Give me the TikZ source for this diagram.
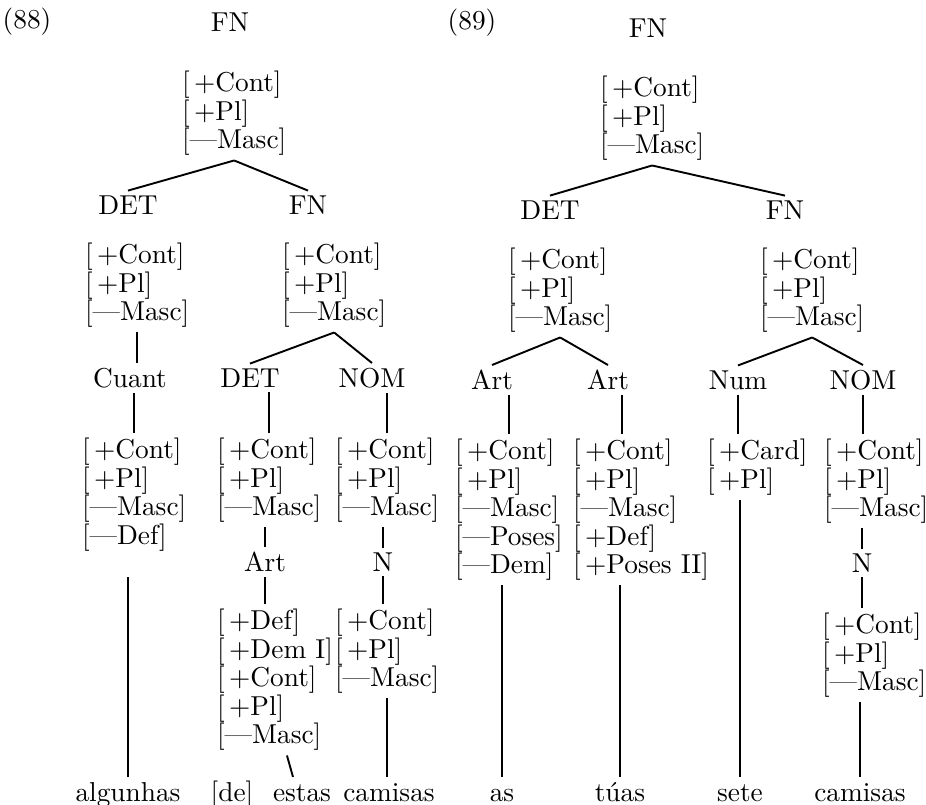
\documentclass[tikz,border=0pt]{standalone}
\usepackage{tikz}
\usetikzlibrary{calc}
\newcommand{\plusf}[1]{[\,+#1]}
\newcommand{\minusf}[1]{[---#1]}
\tikzset{
  branch/.style={-, line width=0.75pt},
  feat/.style={align=left, anchor=north west},
  word/.style={anchor=base, text height=7.5pt},
  every node/.style={inner sep=0, outer sep=2pt, font=\fontsize{10.8}{11.26}\selectfont}
}

\begin{document}
\begin{tikzpicture}[x=0.395pt, y=-0.395pt]
    \useasboundingbox[fill=white] (0,0) rectangle (926,805);
    % (88)
    \node (ex88) at (27,22) {(88)};
    \node (fnA) at (230,22) {FN};
    \node[feat] (mA) at (177,66) {\plusf{Cont}\\\plusf{Pl}\\\minusf{Masc}};
    \node (detA) at (128,205) {DET};
    \node (fnB) at (308,205) {FN};
    \draw[branch] (mA.south) -- (detA.north);
    \draw[branch] (mA.south) -- (fnB.north);
    \node[feat] (mB) at (80,238) {\plusf{Cont}\\\plusf{Pl}\\\minusf{Masc}};
    \node[feat] (mC) at (277,238) {\plusf{Cont}\\\plusf{Pl}\\\minusf{Masc}};
    \node (cuant) at (130,378) {Cuant};
    \node (detB) at (250,378) {DET};
    \node (nomA) at (372,378) {NOM};
    \draw[branch] (mB.south) -- (mB.south |- cuant.north);
    \draw[branch] (mC.south) -- (detB.north);
    \draw[branch] (mC.south) -- (nomA.north);
    \node[feat] (mD) at (77,433) {\plusf{Cont}\\\plusf{Pl}\\\minusf{Masc}\\\minusf{Def}};
    \node[feat] (mE) at (212,433) {\plusf{Cont}\\\plusf{Pl}\\\minusf{Masc}};
    \node[feat] (mF) at (330,433) {\plusf{Cont}\\\plusf{Pl}\\\minusf{Masc}};
    \draw[branch] (mD.north) -- (mD.north |- cuant.south);
    \draw[branch] (mE.north) -- (mE.north |- detB.south);
    \draw[branch] (mF.north) -- (mF.north |- nomA.south);
    \node (artA) at (265,562) {Art};
    \node (nA) at (383,562) {N};
    \draw[branch] (artA.north) -- (artA.north |- mE.south);
    \draw[branch] (nA.north) -- (nA.north |- mF.south);
    \node[feat] (mG) at (212,604) {\plusf{Def}\\\plusf{Dem I}\\\plusf{Cont}\\\plusf{Pl}\\\minusf{Masc}};
    \node[feat] (mH) at (330,604) {\plusf{Cont}\\\plusf{Pl}\\\minusf{Masc}};
    \draw[branch] (artA.south) -- (artA.south |- mG.north);
    \draw[branch] (nA.south) -- (nA.south |- mH.north);
    \node[word] (w1) at (128,801) {algunhas};
    \node[word] (w2) at (232,801) {[de]};
    \node[word] (w3) at (302,801) {estas};
    \node[word] (w4) at (389,801) {camisas};
    \draw[branch] (w1.north) -- (w1.north |- artA.south);
    \draw[branch] ($(mG.south)+(12,0)$) -- ($(w3.north)+(-9,0)$);
    \draw[branch] (mH.south) -- (mH.south |- w4.north);
    % (89)
    \node (ex89) at (472,23) {(89)};
    \node (fnC) at (648,28) {FN};
    \node[feat] (mI) at (595,71) {\plusf{Cont}\\\plusf{Pl}\\\minusf{Masc}};
    \node (detC) at (550,210) {DET};
    \node (fnD) at (785,210) {FN};
    \draw[branch] (mI.south) -- (detC.north);
    \draw[branch] (mI.south) -- (fnD.north);
    \node[feat] (mJ) at (503,243) {\plusf{Cont}\\\plusf{Pl}\\\minusf{Masc}};
    \node[feat] (mK) at (755,243) {\plusf{Cont}\\\plusf{Pl}\\\minusf{Masc}};
    \node (artB) at (492,380) {Art};
    \node (artC) at (608,380) {Art};
    \node (num) at (738,380) {Num};
    \node (nomB) at (863,380) {NOM};
    \draw[branch] (mJ.south) -- (artB.north);
    \draw[branch] (mJ.south) -- (artC.north);
    \draw[branch] (mK.south) -- (num.north);
    \draw[branch] (mK.south) -- (nomB.north);
    \node[feat] (mL) at (450,434) {\plusf{Cont}\\\plusf{Pl}\\\minusf{Masc}\\\minusf{Poses}\\\minusf{Dem}};
    \node[feat] (mM) at (568,434) {\plusf{Cont}\\\plusf{Pl}\\\minusf{Masc}\\\plusf{Def}\\\plusf{Poses II}};
    \node[feat] (mN) at (702,434) {\plusf{Card}\\\plusf{Pl}};
    \node[feat] (mO) at (819,434) {\plusf{Cont}\\\plusf{Pl}\\\minusf{Masc}};
    \coordinate (stemC) at ($(artC.south)+(14,0)$);
    \draw[branch] (mL.north) -- (mL.north |- artB.south);
    \draw[branch] (stemC) -- (stemC |- mM.north);
    \draw[branch] (num.south) -- (num.south |- mN.north);
    \draw[branch] (nomB.south) -- (nomB.south |- mO.north);
    \node (nB) at (862,563) {N};
    \draw[branch] (nB.north) -- (nB.north |- mO.south);
    \node[feat] (mP) at (817,608) {\plusf{Cont}\\\plusf{Pl}\\\minusf{Masc}};
    \draw[branch] (nB.south) -- (nB.south |- mP.north);
    \node[word] (w5) at (502,801) {as};
    \node[word] (w6) at (620,801) {túas};
    \node[word] (w7) at (740,801) {sete};
    \node[word] (w8) at (860,801) {camisas};
    \draw[branch] (w5.north) -- (w5.north |- mL.south);
    \draw[branch] (w6.north) -- (w6.north |- mM.south);
    \draw[branch] (w7.north) -- (w7.north |- mN.south);
    \draw[branch] (w8.north) -- (w8.north |- mP.south);
\end{tikzpicture}
\end{document}
